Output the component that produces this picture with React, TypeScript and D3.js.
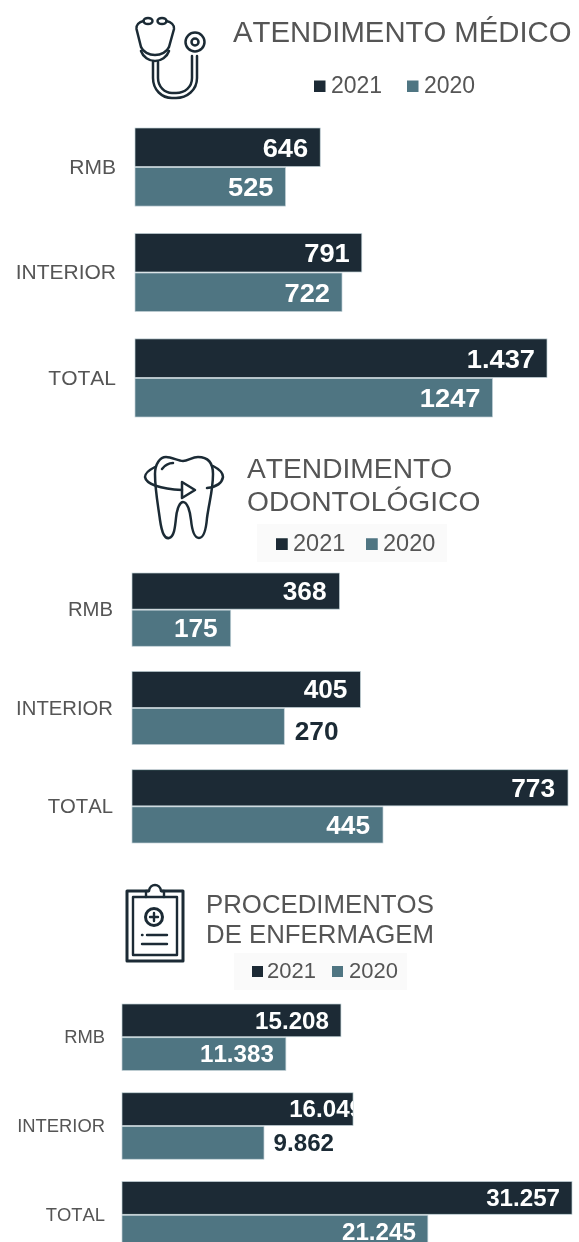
import React from "react";
import * as d3 from "d3";

const seriesNames = ["2021", "2020"];
const categories = ["RMB", "INTERIOR", "TOTAL"];

const medico2021 = [646, 791, 1437];
const medico2020 = [525, 722, 1247];
const medicoLabels2021 = ["646", "791", "1.437"];
const medicoLabels2020 = ["525", "722", "1247"];

const odonto2021 = [368, 405, 773];
const odonto2020 = [175, 270, 445];
const odontoLabels2021 = ["368", "405", "773"];
const odontoLabels2020 = ["175", "270", "445"];

const enferm2021 = [15208, 16049, 31257];
const enferm2020 = [11383, 9862, 21245];
const enfermLabels2021 = ["15.208", "16.049", "31.257"];
const enfermLabels2020 = ["11.383", "9.862", "21.245"];

const DARK = "#1a2c35";
const TEAL = "#4f7482";
const EDGE = "#c3d2d8";
const GREY = "#555555";
const FONT = "'Liberation Sans', Arial, sans-serif";

const panels = [
  {
    id: "medico",
    v21: medico2021, v20: medico2020, l21: medicoLabels2021, l20: medicoLabels2020,
    max: 1437, x: [135, 547], y: [128, 418], pad: 0.25,
    catRight: 116, catSize: 21, labelSize: 26, labelPad: 12, labelDy: 0,
    outside: [] as string[], outsideDy: 0, clipped: "",
  },
  {
    id: "odonto",
    v21: odonto2021, v20: odonto2020, l21: odontoLabels2021, l20: odontoLabels2020,
    max: 773, x: [132, 568], y: [573, 844], pad: 0.245,
    catRight: 113, catSize: 20.3, labelSize: 25, labelPad: 13, labelDy: 0,
    outside: ["270"], outsideDy: 4, clipped: "",
  },
  {
    id: "enferm",
    v21: enferm2021, v20: enferm2020, l21: enfermLabels2021, l20: enfermLabels2020,
    max: 31257, x: [122, 572], y: [1004, 1249], pad: 0.24,
    catRight: 105, catSize: 18.4, labelSize: 23, labelPad: 12, labelDy: 0,
    outside: ["9.862"], outsideDy: 0, clipped: "16.049",
  },
];

function Panel({ p }: { p: (typeof panels)[number] }) {
  const x = d3.scaleLinear().domain([0, p.max]).range(p.x);
  const y = d3.scaleBand().domain(categories).range(p.y).paddingInner(p.pad);
  const inner = d3.scaleBand().domain(seriesNames).range([0, y.bandwidth()]);

  return (
    <g>
      {categories.map((c, i) => (
        <g key={c}>
          <text
            x={p.catRight}
            y={y(c)! + y.bandwidth() / 2}
            dy="0.3em"
            textAnchor="end"
            fontSize={p.catSize}
            fill={GREY}
          >
            {c}
          </text>
          {seriesNames.map((s, j) => {
            const v = j === 0 ? p.v21[i] : p.v20[i];
            const label = j === 0 ? p.l21[i] : p.l20[i];
            const top = y(c)! + inner(s)!;
            const h = inner.bandwidth() - 1;
            const isOut = p.outside.includes(label);
            const isClipped = label === p.clipped;
            const clipId = `clip-${p.id}-${i}-${j}`;
            // values that do not fit sit after the bar, one gets cut off by it
            const tx = isOut
              ? x(v) + p.labelPad * 0.8
              : isClipped
                ? x(v) + 10
                : x(v) - p.labelPad;
            const ty = top + h / 2 + p.labelDy + (isOut ? p.outsideDy : 0);
            return (
              <g key={s}>
                <rect
                  x={x(0)}
                  y={top}
                  width={x(v) - x(0)}
                  height={h}
                  fill={j === 0 ? DARK : TEAL}
                  stroke={EDGE}
                  strokeWidth={0.7}
                />
                {isClipped && (
                  <clipPath id={clipId}>
                    <rect x={x(0)} y={top} width={x(v) - x(0)} height={h} />
                  </clipPath>
                )}
                <g clipPath={isClipped ? `url(#${clipId})` : undefined}>
                  <g transform={`translate(${tx},${ty}) scale(1.05,1)`}>
                    <text
                      dy="0.36em"
                      textAnchor={isOut ? "start" : "end"}
                      fontSize={p.labelSize}
                      fontWeight="bold"
                      fill={isOut ? DARK : "#ffffff"}
                    >
                      {label}
                    </text>
                  </g>
                </g>
              </g>
            );
          })}
        </g>
      ))}
    </g>
  );
}

function Legend({ sq, tx, base, size, box }: { sq: number[]; tx: number[]; base: number; size: number; box?: number[] }) {
  const s = size * 0.5;
  return (
    <g fontSize={size} fill={GREY}>
      {box && <rect x={box[0]} y={box[1]} width={box[2]} height={box[3]} fill="#fafafa" />}
      {seriesNames.map((n, i) => (
        <g key={n}>
          <rect x={sq[i]} y={base - s - 1} width={s} height={s} fill={i === 0 ? DARK : TEAL} />
          <text x={tx[i]} y={base}>{n}</text>
        </g>
      ))}
    </g>
  );
}

function Stethoscope() {
  return (
    <g fill="none" stroke={DARK} strokeWidth={2.5} strokeLinecap="round" strokeLinejoin="round">
      <ellipse cx={148} cy={21} rx={4.5} ry={3} />
      <ellipse cx={162} cy={21} rx={4.5} ry={3} />
      <path d="M143.5 21 C139 22 136 25 136.500 29 L141 47 C143 52 149 55 155 55 C161 55 167 52 169 47 L174 29 C174.500 25 171 22 166.500 21" />
      <path d="M141 51 C143 57 149 61 155 61 C161 61 167 57 169 51" />
      <circle cx={195} cy={42} r={9.5} />
      <circle cx={195} cy={42} r={3.5} />
      <path d="M153 62 V78 C153 90 162 98 172 98 H176 C187 98 197 90 197 78 V56" />
      <path d="M158 62 V78 C158 87 165 93 172 93 H176 C185 93 192 87 192 78 V56" />
    </g>
  );
}

function Tooth() {
  return (
    <g fill="none" stroke={DARK} strokeWidth={2.5} strokeLinecap="round" strokeLinejoin="round">
      <path d="M155 474 C155 490 158 505 160 520 C162 534 165 539 169 538 C174 537 175 528 176 518 C177 508 180 502 183 502 C187 502 190 510 191 520 C192 530 194 538 199 538 C204 538 206 530 207 518 C209 503 213 490 213 474 C213 462 207 457 198 457 C192 457 188 461 183 461 C178 461 172 457 166 457 C160 457 155 464 155 474" />
      <path d="M162 469 C165 465 169 463 173 463" />
      <path d="M155 467 C149 470 145 473 145 477 C146 484 160 489 182 490" />
      <path d="M213 466 C219 469 223 473 223 477 C222 483 216 487 207 488" />
      <path d="M182 482 L195 490 L182 498 Z" />
    </g>
  );
}

function Clipboard() {
  return (
    <g fill="none" stroke={DARK} strokeWidth={3} strokeLinecap="round" strokeLinejoin="round">
      <path d="M148 891 H127 V961 H183 V891 H162" />
      <rect x={133} y={897} width={44} height={58} strokeWidth={2.4} />
      <path d="M146 897 V891 H149 C150 883 160 883 161 891 H164 V897" strokeWidth={2.4} />
      <circle cx={154} cy={917} r={8.500} />
      <path d="M154 913 V921 M150 917 H158" strokeWidth={2.4} />
      <path d="M142 935 H142.500 M147 935 H167 M142 944 H167" strokeWidth={2.4} />
    </g>
  );
}

export default function App() {
  return (
    <svg
      width={579}
      height={1242}
      fontFamily={FONT}
      style={{ position: "fixed", left: 0, top: 0, background: "#fff", fontKerning: "none" }}
    >
      <defs>
        <filter id="soft" x="0" y="0" width="100%" height="100%">
          <feGaussianBlur stdDeviation={0.45} />
        </filter>
      </defs>
      <g filter="url(#soft)">
        <rect width={579} height={1242} fill="#fff" />
        <Stethoscope />
        <text x={233} y={42} fontSize={29.3} fill={GREY}>ATENDIMENTO MÉDICO</text>
        <Legend sq={[314, 407]} tx={[331, 424]} base={93} size={23} />
        <Panel p={panels[0]} />

        <Tooth />
        <g fontSize={28.2} fill={GREY}>
          <text x={247} y={478}>ATENDIMENTO</text>
          <text x={247} y={511}>ODONTOLÓGICO</text>
        </g>
        <Legend sq={[276, 366]} tx={[293, 383]} base={551} size={23.5} box={[257, 524, 190, 38]} />
        <Panel p={panels[1]} />

        <Clipboard />
        <g fontSize={25.8} fill={GREY}>
          <text x={206} y={913}>PROCEDIMENTOS</text>
          <text x={206} y={943}>DE ENFERMAGEM</text>
        </g>
        <Legend sq={[252, 332]} tx={[267, 349]} base={978} size={22} box={[234, 953, 173, 37]} />
        <Panel p={panels[2]} />
      </g>
    </svg>
  );
}
